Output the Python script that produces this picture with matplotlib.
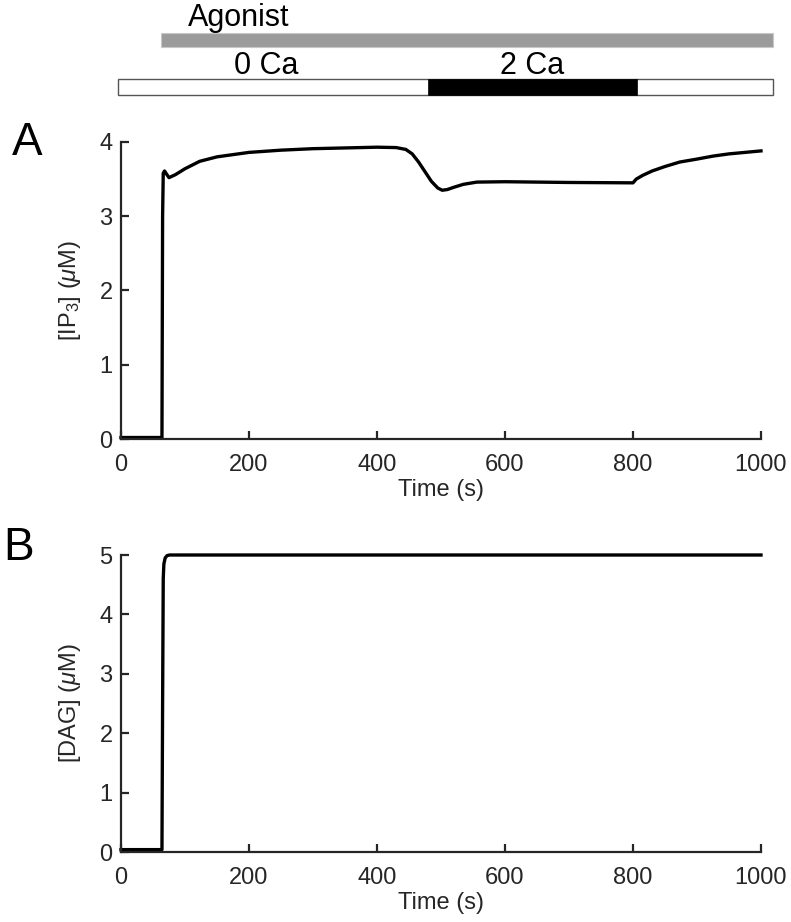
import numpy as np
import matplotlib
matplotlib.use("Agg")
import matplotlib.pyplot as plt

plt.rcParams['font.family'] = ['Liberation Sans', 'DejaVu Sans']
plt.rcParams['mathtext.fontset'] = 'custom'
plt.rcParams['mathtext.rm'] = 'Liberation Sans'
plt.rcParams['mathtext.it'] = 'Liberation Sans:italic'

# protocol (s)
record_start = -5
record_end = 1019
agonist_on = 62
ca_on = 480
ca_off = 806

# IP3 trace
ip3_t = [0, 64, 65, 66, 68, 71, 75, 85, 100, 123, 150, 200, 250, 300, 350, 400, 430,
         445, 455, 465, 475, 485, 495, 502, 510, 520, 535, 556, 600, 700, 800,
         805, 815, 830, 850, 873, 900, 925, 950, 975, 1000]
ip3_v = [0.02, 0.02, 3.0, 3.58, 3.61, 3.57, 3.52, 3.56, 3.64, 3.74, 3.8, 3.86, 3.89, 3.91, 3.92, 3.93, 3.925,
         3.9, 3.84, 3.73, 3.6, 3.47, 3.38, 3.35, 3.36, 3.39, 3.43, 3.46, 3.465, 3.455, 3.45,
         3.5, 3.55, 3.61, 3.67, 3.73, 3.77, 3.81, 3.84, 3.86, 3.88]

# DAG trace
dag_t = [0, 64, 65, 66, 67, 69, 72, 76, 1000]
dag_v = [0.04, 0.04, 2.5, 4.6, 4.85, 4.95, 4.99, 5.0, 5.0]

xticks = [0, 200, 400, 600, 800, 1000]
axcol = '#262626'

W, H = 791, 922
fig = plt.figure(figsize=(W / 100, H / 100), dpi=100)

left = 121 / W
width = (761 - 121) / W
axh = 297 / H


def style(ax, ymax):
    ax.set_xlim(0, 1000)
    ax.set_ylim(0, ymax)
    ax.set_xticks(xticks)
    ax.set_yticks(range(ymax + 1))
    for s in ['top', 'right']:
        ax.spines[s].set_visible(False)
    for s in ['left', 'bottom']:
        ax.spines[s].set_linewidth(1.6)
        ax.spines[s].set_color(axcol)
    ax.tick_params(direction='in', length=6, width=1.6, colors=axcol, labelsize=17)
    ax.tick_params(axis='x', pad=11)
    ax.tick_params(axis='y', pad=6)
    ax.set_xlabel('Time (s)', fontsize=17, color=axcol, labelpad=2)


axA = fig.add_axes([left, 1 - 439 / H, width, axh])
axA.plot(ip3_t, ip3_v, color='k', lw=2.4, clip_on=False)
style(axA, 4)
axA.set_ylabel('[IP$_3$] ($\\mu$M)', fontsize=17, color=axcol, labelpad=12)

axB = fig.add_axes([left, 1 - 852 / H, width, axh])
axB.plot(dag_t, dag_v, color='k', lw=2.4, clip_on=False)
style(axB, 5)
axB.set_ylabel('[DAG] ($\\mu$M)', fontsize=17, color=axcol, labelpad=12)

fig.text(12 / W, 1 - 155 / H, 'A', fontsize=33, va='baseline')
fig.text(3 / W, 1 - 560 / H, 'B', fontsize=33, va='baseline')

# protocol bars on top, same time axis as the panels
axT = fig.add_axes([left, 1 - 110 / H, width, 110 / H])
axT.set_xlim(0, 1000)
axT.set_ylim(110, 0)
axT.axis('off')
axT.barh(40, record_end - agonist_on, left=agonist_on, height=14,
         color='#9b9b9b', edgecolor='#c8c8c8', lw=0.8, clip_on=False)
axT.barh(87, record_end - record_start, left=record_start, height=16,
         color='white', edgecolor='#555555', lw=1.0, clip_on=False)
axT.barh(87, ca_off - ca_on, left=ca_on, height=16,
         color='black', edgecolor='black', lw=0.5, clip_on=False)
axT.text(105, 26, 'Agonist', fontsize=22, va='baseline', ha='left')
axT.text((record_start + ca_on) / 2 - 10, 74, '0 Ca', fontsize=22, va='baseline', ha='center')
axT.text((ca_on + ca_off) / 2, 74, '2 Ca', fontsize=22, va='baseline', ha='center')

fig.savefig('out.png', dpi=100)
